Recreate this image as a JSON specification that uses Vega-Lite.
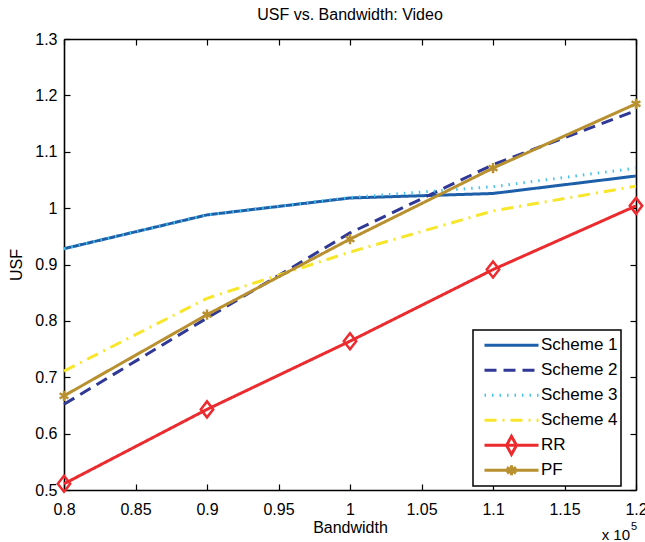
{
  "$schema": "https://vega.github.io/schema/vega-lite/v6.json",
  "width": 572,
  "height": 451,
  "autosize": {"type": "none"},
  "padding": {"left": 64, "top": 39, "right": 9, "bottom": 52},
  "background": "white",
  "title": {"text": "USF vs. Bandwidth: Video", "font": "Liberation Sans", "fontSize": 16, "fontWeight": "normal", "color": "black", "offset": 8, "anchor": "middle"},
  "config": {
    "view": {"stroke": null},
    "font": "Liberation Sans"
  },
  "data": {"values": [
    {"series": "Scheme 1", "bandwidth": 80000, "usf": 0.928},
    {"series": "Scheme 1", "bandwidth": 90000, "usf": 0.988},
    {"series": "Scheme 1", "bandwidth": 100000, "usf": 1.018},
    {"series": "Scheme 1", "bandwidth": 110000, "usf": 1.026},
    {"series": "Scheme 1", "bandwidth": 120000, "usf": 1.057},
    {"series": "Scheme 2", "bandwidth": 80000, "usf": 0.652},
    {"series": "Scheme 2", "bandwidth": 90000, "usf": 0.805},
    {"series": "Scheme 2", "bandwidth": 100000, "usf": 0.956},
    {"series": "Scheme 2", "bandwidth": 110000, "usf": 1.077},
    {"series": "Scheme 2", "bandwidth": 120000, "usf": 1.173},
    {"series": "Scheme 3", "bandwidth": 80000, "usf": 0.928},
    {"series": "Scheme 3", "bandwidth": 90000, "usf": 0.988},
    {"series": "Scheme 3", "bandwidth": 100000, "usf": 1.019},
    {"series": "Scheme 3", "bandwidth": 110000, "usf": 1.038},
    {"series": "Scheme 3", "bandwidth": 120000, "usf": 1.071},
    {"series": "Scheme 4", "bandwidth": 80000, "usf": 0.711},
    {"series": "Scheme 4", "bandwidth": 90000, "usf": 0.84},
    {"series": "Scheme 4", "bandwidth": 100000, "usf": 0.922},
    {"series": "Scheme 4", "bandwidth": 110000, "usf": 0.995},
    {"series": "Scheme 4", "bandwidth": 120000, "usf": 1.039},
    {"series": "RR", "bandwidth": 80000, "usf": 0.511},
    {"series": "RR", "bandwidth": 90000, "usf": 0.643},
    {"series": "RR", "bandwidth": 100000, "usf": 0.764},
    {"series": "RR", "bandwidth": 110000, "usf": 0.891},
    {"series": "RR", "bandwidth": 120000, "usf": 1.004},
    {"series": "PF", "bandwidth": 80000, "usf": 0.667},
    {"series": "PF", "bandwidth": 90000, "usf": 0.811},
    {"series": "PF", "bandwidth": 100000, "usf": 0.945},
    {"series": "PF", "bandwidth": 110000, "usf": 1.071},
    {"series": "PF", "bandwidth": 120000, "usf": 1.185}
  ]},
  "layer": [
    {
      "layer": [
        {
          "mark": {"type": "line", "strokeWidth": 3},
          "encoding": {
            "x": {"field": "bandwidth", "type": "quantitative",
              "scale": {"domain": [80000, 120000], "nice": false, "zero": false},
              "axis": {"orient": "bottom", "values": [80000, 85000, 90000, 95000, 100000, 105000, 110000, 115000, 120000],
                "labelExpr": "format(datum.value/100000, '.2~f')", "grid": false,
                "tickSize": -6, "tickColor": "black", "tickWidth": 1.2, "domainColor": "black", "domainWidth": 1.6,
                "labelFont": "Liberation Sans", "labelFontSize": 16, "labelColor": "black", "labelPadding": 17,
                "labelFlush": false, "labelOverlap": false,
                "title": "Bandwidth", "titleFont": "Liberation Sans", "titleFontSize": 16, "titleFontWeight": "normal", "titleColor": "black", "titlePadding": 2}},
            "y": {"field": "usf", "type": "quantitative",
              "scale": {"domain": [0.5, 1.3], "nice": false, "zero": false},
              "axis": {"orient": "left", "values": [0.5, 0.6, 0.7, 0.8, 0.9, 1.0, 1.1, 1.2, 1.3], "format": ".1~f", "grid": false,
                "tickSize": -6, "tickColor": "black", "tickWidth": 1.2, "domainColor": "black", "domainWidth": 1.6,
                "labelFont": "Liberation Sans", "labelFontSize": 16, "labelColor": "black", "labelPadding": 13,
                "labelFlush": false, "labelOverlap": false,
                "title": "USF", "titleFont": "Liberation Sans", "titleFontSize": 16, "titleFontWeight": "normal", "titleColor": "black", "titlePadding": 10}},
            "color": {"field": "series", "type": "nominal",
              "scale": {"domain": ["Scheme 1", "Scheme 2", "Scheme 3", "Scheme 4", "RR", "PF"],
                "range": ["#1d5fa8", "#2f3896", "#45c3ec", "#f7e62a", "#ec2b2f", "#b8902f"]},
              "legend": {"orient": "none", "legendX": 409, "legendY": 291, "title": null, "direction": "vertical",
                "symbolSize": 400, "symbolStrokeWidth": 3, "symbolOffset": 24, "labelOffset": 18,
                "labelFont": "Liberation Sans", "labelFontSize": 17, "labelColor": "black", "labelLimit": 0,
                "labelExpr": "datum.label + '    '",
                "clipHeight": 24.7, "rowPadding": 0, "padding": 3, "strokeColor": "black", "fillColor": "white",
                "encode": {
                  "symbols": {"update": {
                    "shape": {"signal": "datum.value === 'RR' ? 'M-2.7,0H2.7M0,-0.9L0.5,0L0,0.9L-0.5,0Z' : datum.value === 'PF' ? 'M-2.7,0H2.7M0,-0.5V0.5M-0.45,-0.3L0.45,0.3M-0.45,0.3L0.45,-0.3' : 'M-2.7,0H2.7'"},
                    "fill": {"value": "transparent"}}},
                  "legend": {"update": {"strokeWidth": {"value": 1.5}}}
                }}},
            "strokeDash": {"field": "series", "type": "nominal",
              "scale": {"domain": ["Scheme 1", "Scheme 2", "Scheme 3", "Scheme 4", "RR", "PF"],
                "range": [[1, 0], [12, 7], [1.5, 6], [12, 6, 2, 6], [1, 0], [1, 0]]}}
          }
        },
        {
          "transform": [{"filter": "datum.series === 'RR'"}],
          "mark": {"type": "point", "shape": "M0,-2L1.55,0L0,2L-1.55,0Z", "size": 64, "filled": false, "stroke": "#ec2b2f", "strokeWidth": 2.5, "opacity": 1},
          "encoding": {
            "x": {"field": "bandwidth", "type": "quantitative"},
            "y": {"field": "usf", "type": "quantitative"}
          }
        },
        {
          "transform": [{"filter": "datum.series === 'PF'"}],
          "mark": {"type": "point", "shape": "M0,-1.3V1.3M-1.1,-0.65L1.1,0.65M-1.1,0.65L1.1,-0.65", "size": 64, "filled": false, "stroke": "#b8902f", "strokeWidth": 2.5, "opacity": 1},
          "encoding": {
            "x": {"field": "bandwidth", "type": "quantitative"},
            "y": {"field": "usf", "type": "quantitative"}
          }
        },
        {
          "data": {"values": [{"t": "x 10"}]},
          "mark": {"type": "text", "align": "right", "baseline": "middle", "dx": -6, "dy": 45, "font": "Liberation Sans", "fontSize": 15, "color": "black"},
          "encoding": {
            "x": {"datum": 120000},
            "y": {"datum": 0.5},
            "text": {"field": "t"}
          }
        },
        {
          "data": {"values": [{"t": "5"}]},
          "mark": {"type": "text", "align": "left", "baseline": "middle", "dx": -5, "dy": 37, "font": "Liberation Sans", "fontSize": 11, "color": "black"},
          "encoding": {
            "x": {"datum": 120000},
            "y": {"datum": 0.5},
            "text": {"field": "t"}
          }
        }
      ]
    },
    {
      "mark": {"type": "point", "opacity": 0},
      "encoding": {
        "x": {"field": "bandwidth", "type": "quantitative",
          "axis": {"orient": "top", "values": [80000, 85000, 90000, 95000, 100000, 105000, 110000, 115000, 120000], "labels": false, "title": null, "grid": false,
            "tickSize": -6, "tickColor": "black", "tickWidth": 1.2, "domainColor": "black", "domainWidth": 1.6}},
        "y": {"field": "usf", "type": "quantitative",
          "axis": {"orient": "right", "values": [0.5, 0.6, 0.7, 0.8, 0.9, 1.0, 1.1, 1.2, 1.3], "labels": false, "title": null, "grid": false,
            "tickSize": -6, "tickColor": "black", "tickWidth": 1.2, "domainColor": "black", "domainWidth": 1.6}}
      }
    }
  ],
  "resolve": {"axis": {"x": "independent", "y": "independent"}}
}
